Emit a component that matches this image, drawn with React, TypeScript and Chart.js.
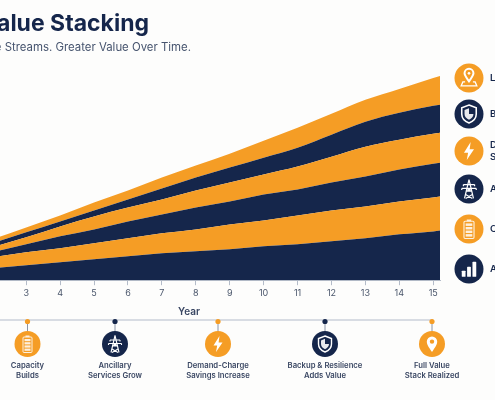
import React, { useEffect, useRef } from "react";
import { Chart, registerables } from "chart.js";

Chart.register(...registerables);

const years = [1, 2, 3, 4, 5, 6, 7, 8, 9, 10, 11, 12, 13, 14, 15, 15.2];
const arbitrage = [0.9, 1.2, 1.5, 1.8, 2.1, 2.4, 2.7, 2.9, 3.1, 3.4, 3.6, 3.9, 4.2, 4.6, 4.9, 5.0];
const capacity = [0.9, 1.1, 1.3, 1.4, 1.6, 1.8, 2.0, 2.2, 2.5, 2.6, 2.9, 3.1, 3.2, 3.3, 3.4, 3.4];
const ancillary = [0.3, 0.5, 0.8, 1.2, 1.4, 1.7, 1.9, 2.2, 2.3, 2.6, 2.6, 2.8, 3.0, 3.2, 3.4, 3.4];
const demand = [0.2, 0.5, 0.7, 1.0, 1.3, 1.4, 1.5, 1.7, 1.9, 2.0, 2.3, 2.6, 3.0, 3.0, 3.0, 3.0];
const backup = [0.4, 0.4, 0.5, 0.5, 0.6, 0.8, 1.1, 1.3, 1.5, 1.7, 1.9, 2.2, 2.5, 2.7, 2.8, 2.8];
const location = [0.2, 0.4, 0.5, 0.6, 0.8, 0.9, 1.1, 1.2, 1.4, 1.7, 2.0, 2.1, 2.2, 2.4, 2.8, 2.9];

const NAVY = "#15264b";
const ORANGE = "#f59d25";

const legendItems = [
  { label: ["Location Value"], icon: "pin", color: ORANGE, y: 78 },
  { label: ["Backup & Resilience"], icon: "shield", color: NAVY, y: 114 },
  { label: ["Demand-Charge", "Savings"], icon: "bolt", color: ORANGE, y: 151 },
  { label: ["Ancillary Services"], icon: "tower", color: NAVY, y: 189 },
  { label: ["Capacity"], icon: "battery", color: ORANGE, y: 229 },
  { label: ["Arbitrage"], icon: "bars", color: NAVY, y: 269 },
];

const milestones = [
  { label: ["Capacity", "Builds"], icon: "battery", color: ORANGE, x: 27.5 },
  { label: ["Ancillary", "Services Grow"], icon: "tower", color: NAVY, x: 115 },
  { label: ["Demand-Charge", "Savings Increase"], icon: "bolt", color: ORANGE, x: 218 },
  { label: ["Backup & Resilience", "Adds Value"], icon: "shield", color: NAVY, x: 325 },
  { label: ["Full Value", "Stack Realized"], icon: "pinSolid", color: ORANGE, x: 432 },
];

function Glyph({ name }: { name: string }) {
  const w = "#ffffff";
  switch (name) {
    case "pin":
      return (
        <g fill="none" stroke={w} strokeWidth={1.8}>
          <path d="M12 15 C9 11 8 9.5 8 7.8 A4 4 0 0 1 16 7.8 C16 9.5 15 11 12 15 Z" />
          <circle cx={12} cy={7.8} r={1.2} fill={w} stroke="none" />
          <path d="M8.5 15.5 H6.5 L5 19 H19 L17.5 15.5 H15.5" strokeWidth={1.2} />
        </g>
      );
    case "pinSolid":
      return (
        <path
          fillRule="evenodd"
          d="M12 20 C8.5 15 6.8 12.5 6.8 9.6 A5.2 5.2 0 0 1 17.2 9.6 C17.2 12.5 15.5 15 12 20 Z M12 7.4 A2.2 2.2 0 1 0 12 11.8 A2.2 2.2 0 1 0 12 7.4 Z"
          fill={w}
        />
      );
    case "shield":
      return (
        <g fill="none" stroke={w} strokeWidth={1.4}>
          <path d="M12 4 L18.5 6.5 V12 C18.5 16 15.5 18.7 12 20 C8.5 18.7 5.5 16 5.5 12 V6.5 Z" />
          <path d="M12 6.8 V17.2 C9.8 16.2 8 14.5 8 12 V8.4 Z" fill={w} stroke="none" opacity={0.9} />
          <path d="M12 12 H16 C15.9 14.4 14.2 16.2 12 17.2 Z" fill={w} stroke="none" opacity={0.9} />
        </g>
      );
    case "bolt":
      return <path d="M13.5 4 L7.5 13.5 H11.2 L10 20 L16.5 10.5 H12.6 Z" fill={w} />;
    case "tower":
      return (
        <g fill="none" stroke={w} strokeWidth={1.1}>
          <path d="M12 3.5 L8 20.5 M12 3.5 L16 20.5" />
          <path d="M7 8 H17 M5.5 11.5 H18.5 M9.5 14 H14.5 M9 17 L15 20.5 M15 17 L9 20.5 M10 11.5 L14 14 M14 11.5 L10 14" />
          <path d="M7 8 V9.5 M17 8 V9.5 M5.5 11.5 V13 M18.5 11.5 V13" />
        </g>
      );
    case "battery":
      return (
        <g fill={w} opacity={0.85}>
          <rect x={10} y={3.5} width={4} height={1.6} />
          <rect x={7.5} y={5} width={9} height={15.5} rx={1} fill="none" stroke={w} strokeWidth={1} />
          <rect x={9} y={7} width={6} height={2.2} />
          <rect x={9} y={10.2} width={6} height={2.2} />
          <rect x={9} y={13.4} width={6} height={2.2} />
          <rect x={9} y={16.6} width={6} height={2.2} />
        </g>
      );
    default:
      return (
        <g fill={w}>
          <rect x={5.5} y={13.5} width={3.4} height={5.5} rx={0.6} />
          <rect x={10.3} y={10} width={3.4} height={9} rx={0.6} />
          <rect x={15.1} y={5.5} width={3.4} height={13.5} rx={0.6} />
        </g>
      );
  }
}

function Badge({ cx, cy, r, icon, color }: { cx: number; cy: number; r: number; icon: string; color: string }) {
  const s = (r * 2) / 26;
  return (
    <g>
      <circle cx={cx} cy={cy} r={r} fill={color} />
      <g transform={`translate(${cx - 12 * s} ${cy - 12 * s}) scale(${s})`}>
        <Glyph name={icon} />
      </g>
    </g>
  );
}

export default function App() {
  const ref = useRef<HTMLCanvasElement | null>(null);

  useEffect(() => {
    if (!ref.current) return;
    const layer = (label: string, data: number[], color: string, fill: string | number) => ({
      label,
      data: data.map((y, i) => ({ x: years[i], y })),
      backgroundColor: color,
      borderColor: color,
      borderWidth: 0,
      pointRadius: 0,
      cubicInterpolationMode: "monotone",
      fill,
    });
    const chart = new Chart(ref.current, {
      type: "line",
      data: {
        datasets: [
          layer("Arbitrage", arbitrage, NAVY, "origin"),
          layer("Capacity", capacity, ORANGE, "-1"),
          layer("Ancillary Services", ancillary, NAVY, "-1"),
          layer("Demand-Charge Savings", demand, ORANGE, "-1"),
          layer("Backup & Resilience", backup, NAVY, "-1"),
          layer("Location Value", location, ORANGE, "-1"),
        ],
      },
      options: {
        animation: false,
        responsive: false,
        layout: { padding: { top: 61, right: 55, left: 0, bottom: 82 } },
        plugins: { legend: { display: false }, tooltip: { enabled: false } },
        scales: {
          x: {
            type: "linear",
            min: 0.4,
            max: 15.2,
            border: { color: "#b4bcc9", width: 1 },
            grid: { drawOnChartArea: false, drawTicks: true, tickLength: 5, color: "#b4bcc9" },
            ticks: {
              stepSize: 1,
              includeBounds: false,
              maxRotation: 0,
              autoSkip: false,
              padding: 3,
              color: "#4a566b",
              font: { family: "Inter", size: 9 },
              callback: (v: any) => String(v),
            },
            title: {
              display: true,
              text: "Year",
              color: "#3a4763",
              padding: { top: 4, bottom: 0 },
              font: { family: "Inter", size: 10, weight: "600" },
            },
          },
          y: { stacked: true, display: false, min: 0, max: 22 },
        },
      },
    });
    return () => chart.destroy();
  }, []);

  const text = { position: "absolute", whiteSpace: "nowrap" } as const;

  return (
    <div
      style={{
        position: "absolute",
        left: 0,
        top: 0,
        width: 495,
        height: 400,
        overflow: "hidden",
        background: "#fdfdfc",
        fontFamily: "Inter, sans-serif",
      }}
    >
      <canvas ref={ref} width={557} height={400} style={{ position: "absolute", left: -62, top: 0 }} />
      <div style={{ ...text, right: 346, top: 8, fontSize: 23, fontWeight: 700, color: NAVY, lineHeight: "30px" }}>
        Value Stacking
      </div>
      <div style={{ ...text, right: 304, top: 40, fontSize: 11.4, fontWeight: 400, color: "#46546e", lineHeight: "14px" }}>
        More Revenue Streams. Greater Value Over Time.
      </div>
      <svg width={495} height={400} style={{ position: "absolute", left: 0, top: 0 }}>
        <line x1={-10} x2={433} y1={320} y2={320} stroke="#b4bcc9" strokeWidth={1.2} />
        {milestones.map((m) => (
          <g key={m.x}>
            <line x1={m.x} x2={m.x} y1={320} y2={334} stroke="#8a94a6" strokeWidth={1} />
            <circle cx={m.x} cy={321.5} r={2.6} fill={m.color} />
            <Badge cx={m.x} cy={344} r={13} icon={m.icon} color={m.color} />
          </g>
        ))}
        {legendItems.map((l) => (
          <Badge key={l.y} cx={469} cy={l.y} r={14.5} icon={l.icon} color={l.color} />
        ))}
      </svg>
      {legendItems.map((l) => (
        <div
          key={l.y}
          style={{
            ...text,
            left: 490,
            top: l.y - (l.label.length * 12) / 2,
            fontSize: 9.5,
            fontWeight: 600,
            lineHeight: "12px",
            color: NAVY,
          }}
        >
          {l.label.map((t) => (
            <div key={t}>{t}</div>
          ))}
        </div>
      ))}
      {milestones.map((m) => (
        <div
          key={m.x}
          style={{
            ...text,
            left: m.x - 60,
            width: 120,
            top: 361,
            textAlign: "center",
            fontSize: 7.7,
            fontWeight: 600,
            lineHeight: "10px",
            color: "#3a4763",
          }}
        >
          {m.label.map((t) => (
            <div key={t}>{t}</div>
          ))}
        </div>
      ))}
    </div>
  );
}
